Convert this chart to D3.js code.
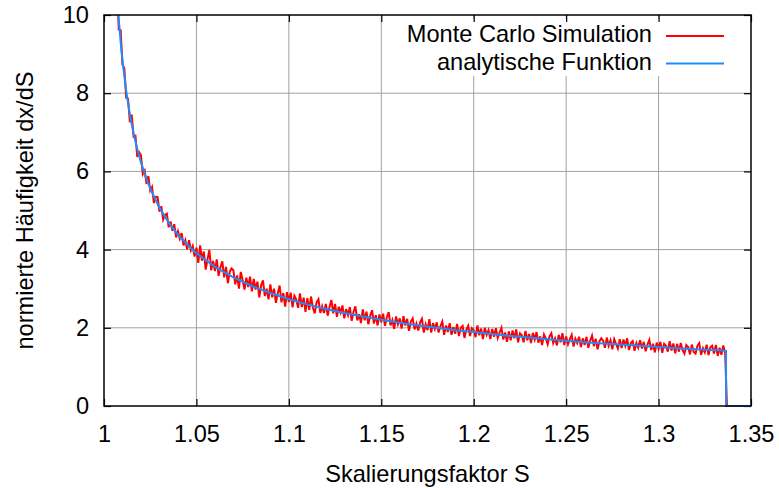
<!DOCTYPE html>
<html>
<head>
<meta charset="utf-8">
<script src="https://cdn.jsdelivr.net/npm/d3@7"></script>
<style>
  html, body { margin: 0; padding: 0; background: #fff; }
  svg { display: block; font-family: "Liberation Sans", Arial, sans-serif; }
  .tick-label { font-size: 23.6px; fill: #000; }
  .axis-title { font-size: 23.6px; fill: #000; }
  .legend-text { font-size: 23.6px; fill: #000; }
</style>
</head>
<body>
<svg id="chart" width="779" height="488"></svg>
<script>
// Häufigkeitsverteilung des Skalierungsfaktors: Monte-Carlo-Histogramm gegen analytische Kurve.

const xTicks = [1, 1.05, 1.1, 1.15, 1.2, 1.25, 1.3, 1.35];
const xTickLabels = ["1", "1.05", "1.1", "1.15", "1.2", "1.25", "1.3", "1.35"];
const yTicks = [0, 2, 4, 6, 8, 10];
const yTickLabels = ["0", "2", "4", "6", "8", "10"];

const seriesNames = ["Monte Carlo Simulation", "analytische Funktion"];

// Monte Carlo histogram: bins from mcStart in steps of mcStep
const mcStart = 1.007;
const mcStep = 0.001;
const mcValues = [
  10.76, 9.63, 9.61, 8.73, 8.64, 7.88, 7.86, 7.26, 7.45, 6.89,
  6.91, 6.37, 6.49, 6.41, 5.93, 6.02, 5.68, 5.88, 5.51, 5.60,
  5.19, 5.35, 5.34, 4.97, 5.11, 4.77, 4.89, 4.92, 4.57, 4.72,
  4.48, 4.65, 4.31, 4.47, 4.28, 4.42, 4.11, 4.24, 4.01, 4.24,
  3.98, 4.09, 3.82,
  4.05, 3.66, 4.11, 3.72, 3.95, 3.49, 3.75, 3.99, 3.47, 3.71,
  3.45, 3.75, 3.33, 3.55, 3.70, 3.29, 3.56, 3.14, 3.43, 3.52,
  3.47, 3.11, 3.34, 3.00, 3.43, 3.22, 2.98, 3.28, 3.04, 3.31,
  2.93, 3.25, 2.98, 3.18, 2.78, 3.09, 3.21, 2.81, 3.00, 2.73,
  3.11, 2.78, 3.00, 2.64, 2.88, 3.08, 2.65, 2.89, 2.54, 2.91,
  2.66, 2.90, 2.52, 2.82, 2.72, 2.51, 2.88, 2.53, 2.77, 2.41,
  2.76, 2.46, 2.80, 2.52, 2.37, 2.65, 2.73, 2.38, 2.55, 2.38,
  2.61, 2.31, 2.53, 2.71, 2.37, 2.61, 2.28, 2.54, 2.39, 2.57,
  2.24, 2.48, 2.32, 2.53, 2.18, 2.41, 2.55, 2.19, 2.35, 2.12,
  2.47, 2.19, 2.41, 2.09, 2.31, 2.45, 2.11, 2.32, 2.06, 2.34,
  2.14, 2.36, 2.05, 2.27, 2.40, 2.06, 2.20, 1.97, 2.29, 2.09,
  2.24, 1.98, 2.30, 2.06, 2.23, 1.92, 2.16, 2.24, 1.96, 2.11,
  1.93, 2.14, 2.23, 1.88, 2.09, 1.94, 2.22, 1.88, 2.12, 1.97,
  2.14, 1.88, 2.04, 2.16, 1.82, 2.06, 1.89, 2.12, 1.82, 2.02,
  1.85, 2.10, 1.79, 2.00, 2.05, 1.74, 1.95, 2.05, 1.79, 1.99,
  1.94, 1.76, 2.06, 1.81, 1.98, 1.71, 2.00, 1.82, 1.94, 1.71,
  1.97, 1.77, 1.99, 1.74, 1.88, 2.00, 1.70, 1.88, 1.64, 1.91,
  1.68, 1.93, 1.73, 1.96, 1.63, 1.86, 1.81, 1.63, 1.92, 1.68,
  1.84, 1.61, 1.87, 1.70, 1.89, 1.62, 1.78, 1.56, 1.83, 1.73,
  1.58, 1.78, 1.86, 1.61, 1.73, 1.55, 1.82, 1.63, 1.86, 1.56,
  1.78, 1.58, 1.71, 1.82, 1.52, 1.72, 1.61, 1.77, 1.51, 1.73,
  1.56, 1.77, 1.49, 1.67, 1.80, 1.53, 1.72, 1.45, 1.65, 1.73,
  1.67, 1.49, 1.75, 1.54, 1.68, 1.45, 1.71, 1.59, 1.47, 1.71,
  1.48, 1.70, 1.54, 1.73, 1.43, 1.61, 1.66, 1.41, 1.61, 1.49,
  1.68, 1.47, 1.64, 1.40, 1.57, 1.69, 1.43, 1.59, 1.37, 1.62,
  1.46, 1.64, 1.36, 1.59, 1.54, 1.39, 1.66, 1.42, 1.60, 1.35,
  1.59, 1.39, 1.61, 1.43, 1.34, 1.56, 1.51, 1.32, 1.57, 1.38,
  1.34, 1.54, 1.61, 1.31, 1.48, 1.37, 1.57, 1.30, 1.50, 1.54,
  1.34, 1.56, 1.28, 1.49, 1.31, 1.55, 1.36,
  0, 0
];

// analytic curve
const fnS = [
  1.007, 1.008, 1.009, 1.010, 1.012, 1.014, 1.016, 1.018, 1.020,
  1.023, 1.026, 1.030, 1.035, 1.040, 1.045, 1.050,
  1.06, 1.07, 1.08, 1.09, 1.10, 1.11, 1.12, 1.13, 1.14, 1.15,
  1.16, 1.17, 1.18, 1.19, 1.20, 1.21, 1.22, 1.23, 1.24, 1.25,
  1.26, 1.27, 1.28, 1.29, 1.30, 1.31, 1.32, 1.33,
  1.3365, 1.3365, 1.35
];
const fnValues = [
  10.56, 9.88, 9.31, 8.83, 8.06, 7.46, 6.97, 6.57, 6.23,
  5.80, 5.46, 5.07, 4.69, 4.38, 4.13, 3.91,
  3.56, 3.29, 3.07, 2.89, 2.73, 2.60, 2.48, 2.38, 2.29, 2.205,
  2.13, 2.06, 2.00, 1.94, 1.89, 1.84, 1.79, 1.75, 1.71, 1.67,
  1.63, 1.60, 1.57, 1.54, 1.51, 1.48, 1.45, 1.43,
  1.41, 0, 0
];

const colors = { mc: "#ff0000", fn: "#1e8cff" };

const margin = { left: 104, right: 28, top: 15, bottom: 82 };
const svg = d3.select("#chart");
const fullW = +svg.attr("width");
const fullH = +svg.attr("height");
const width = fullW - margin.left - margin.right;
const height = fullH - margin.top - margin.bottom;

const x = d3.scaleLinear().domain([1, 1.35]).range([0, width]);
const y = d3.scaleLinear().domain([0, 10]).range([height, 0]);

const g = svg.append("g").attr("transform", `translate(${margin.left},${margin.top})`);

svg.append("defs").append("clipPath").attr("id", "plot-clip")
  .append("rect").attr("x", 0).attr("y", 0).attr("width", width).attr("height", height + 2);

// grid
g.append("g").attr("class", "grid-x")
  .selectAll("line").data(xTicks.slice(1, -1)).join("line")
  .attr("x1", (d) => x(d)).attr("x2", (d) => x(d))
  .attr("y1", 0).attr("y2", height)
  .attr("stroke", "#a0a0a0").attr("stroke-width", 1);

g.append("g").attr("class", "grid-y")
  .selectAll("line").data(yTicks.slice(1, -1)).join("line")
  .attr("x1", 0).attr("x2", width)
  .attr("y1", (d) => y(d)).attr("y2", (d) => y(d))
  .attr("stroke", "#a0a0a0").attr("stroke-width", 1);

// legend background hides the grid behind it
const legendX = 652;
const legendRows = [42, 69.5];
g.append("rect")
  .attr("x", 398 - margin.left).attr("y", 19 - margin.top)
  .attr("width", 338).attr("height", 57)
  .attr("fill", "#fff");

// axes with mirrored inner ticks
const tickLen = 7;
const xLabel = (d) => xTickLabels[xTicks.indexOf(d)];
const yLabel = (d) => yTickLabels[yTicks.indexOf(d)];

const xAxisBottom = g.append("g").attr("transform", `translate(0,${height})`)
  .call(d3.axisBottom(x).tickValues(xTicks).tickFormat(xLabel).tickSize(-tickLen).tickPadding(19));
const xAxisTop = g.append("g")
  .call(d3.axisTop(x).tickValues(xTicks).tickFormat("").tickSize(-tickLen));
const yAxisLeft = g.append("g")
  .call(d3.axisLeft(y).tickValues(yTicks).tickFormat(yLabel).tickSize(-tickLen).tickPadding(15));
const yAxisRight = g.append("g").attr("transform", `translate(${width},0)`)
  .call(d3.axisRight(y).tickValues(yTicks).tickFormat("").tickSize(-tickLen));

[xAxisBottom, xAxisTop, yAxisLeft, yAxisRight].forEach((ax) => {
  ax.select(".domain").remove();
  ax.selectAll(".tick line").attr("stroke", "#000").attr("stroke-width", 1.2);
  ax.selectAll(".tick text").attr("class", "tick-label").attr("font-size", null).attr("font-family", null);
});
xAxisBottom.selectAll(".tick text").attr("dy", "0.71em");

// series
const mcPoints = mcValues.map((v, i) => [mcStart + i * mcStep, v]);
const fnPoints = fnS.map((s, i) => [s, fnValues[i]]);

const line = d3.line().x((d) => x(d[0])).y((d) => y(d[1]));

const lines = g.append("g").attr("clip-path", "url(#plot-clip)");
lines.append("path").datum(mcPoints)
  .attr("d", line).attr("fill", "none")
  .attr("stroke", colors.mc).attr("stroke-width", 2).attr("stroke-linejoin", "miter");
lines.append("path").datum(fnPoints)
  .attr("d", line).attr("fill", "none")
  .attr("stroke", colors.fn).attr("stroke-width", 2);

// frame
g.append("rect")
  .attr("x", 0).attr("y", 0).attr("width", width).attr("height", height)
  .attr("fill", "none").attr("stroke", "#000").attr("stroke-width", 1.5);

// legend
const legend = g.append("g").attr("class", "legend");
seriesNames.forEach((name, i) => {
  const by = legendRows[i] - margin.top;
  legend.append("text").attr("class", "legend-text")
    .attr("x", legendX - margin.left).attr("y", by)
    .attr("text-anchor", "end").text(name);
  legend.append("line")
    .attr("x1", 666 - margin.left).attr("x2", 724 - margin.left)
    .attr("y1", by - 6).attr("y2", by - 6)
    .attr("stroke", i === 0 ? colors.mc : colors.fn).attr("stroke-width", 2);
});

// axis titles
svg.append("text").attr("class", "axis-title")
  .attr("x", margin.left + width / 2).attr("y", 482)
  .attr("text-anchor", "middle").text("Skalierungsfaktor S");

svg.append("text").attr("class", "axis-title")
  .attr("transform", `translate(33,${margin.top + height / 2}) rotate(-90)`)
  .attr("text-anchor", "middle").text("normierte Häufigkeit dx/dS");
</script>
</body>
</html>
